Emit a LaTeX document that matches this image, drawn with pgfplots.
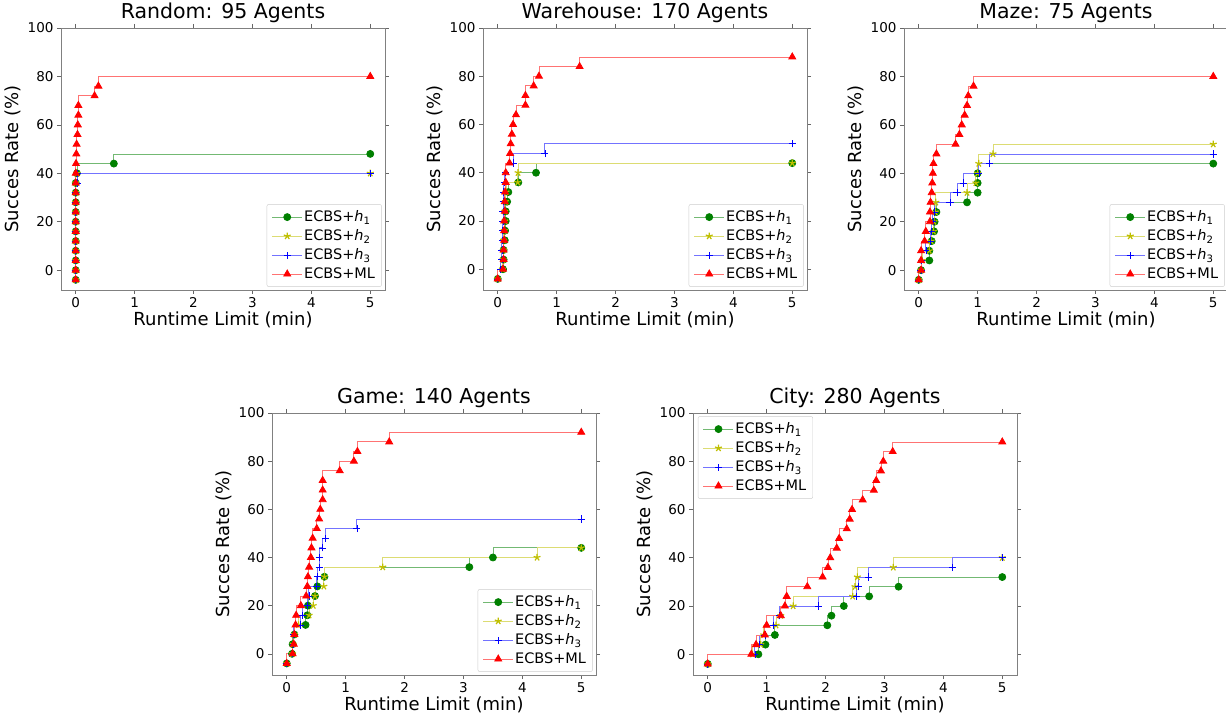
\documentclass[border=0pt]{standalone}
\usepackage{fontspec}
\setmainfont{DejaVu Sans}
\usepackage{pgfplots}
\pgfplotsset{compat=1.18}
\definecolor{mplg}{rgb}{0,0.5,0}
\definecolor{mply}{rgb}{0.75,0.75,0}
\definecolor{mplb}{rgb}{0,0,1}
\definecolor{mplr}{rgb}{1,0,0}
\pgfdeclareplotmark{bplus}{%
  \pgfsetstrokecolor{mplb}%
  \pgfpathmoveto{\pgfqpoint{-\pgfplotmarksize}{0pt}}\pgfpathlineto{\pgfqpoint{\pgfplotmarksize}{0pt}}%
  \pgfpathmoveto{\pgfqpoint{0pt}{-\pgfplotmarksize}}\pgfpathlineto{\pgfqpoint{0pt}{\pgfplotmarksize}}%
  \pgfusepathqstroke}
\pgfplotsset{
  common/.style={
    anchor=south west, scale only axis, width=324pt, height=262pt,
    xmin=-0.25, xmax=5.25, ymax=100,
    xtick={0,1,2,3,4,5}, ytick={0,20,40,60,80,100},
    tick align=outside, major tick length=4pt,
    tick style={black!60, line width=0.6pt},
    axis line style={black!50, line width=0.7pt},
    /pgf/number format/assume math mode=true,
    tick label style={font=\fontsize{13.5}{15}\selectfont},
    title style={font=\fontsize{20.5}{24}\selectfont, yshift=-4pt},
    label style={font=\fontsize{18}{21}\selectfont},
    xlabel={Runtime Limit (min)}, ylabel={Succes Rate (\%)},
    xlabel style={yshift=3pt}, ylabel style={yshift=0pt},
    legend cell align=left,
    legend style={font=\fontsize{14.5}{16}\selectfont, draw=black!20, rounded corners=2pt,
      fill=white, row sep=3.5pt, inner xsep=5pt, inner ysep=5pt,
      nodes={inner sep=1.5pt}},
    legend image code/.code={\draw[sharp plot, mark repeat=2,mark phase=2] plot coordinates {(0pt,0pt) (15pt,0pt) (30pt,0pt)};},
    every axis plot/.append style={const plot mark right, line width=0.8pt},
  },
  lr/.style={legend style={at={(0.99,0.012)}, anchor=south east}},
  sg/.style={color=mplg!55, mark=*, mark size=3.5pt, mark options={draw=mplg, fill=mplg}},
  sy/.style={color=mply!55, mark=star, mark size=3.6pt, mark options={draw=mply, fill=mply, line width=1.2pt}},
  sb/.style={color=mplb!55, mark=bplus, mark size=3.6pt, mark options={draw=mplb, fill=mplb, line width=0.6pt}},
  sr/.style={color=mplr!55, mark=triangle*, mark size=4pt, mark options={draw=mplr, fill=mplr}},
}
\newcommand{\hh}[1]{ECBS+\textit{h}\textsubscript{#1}}
\begin{document}
\begin{tikzpicture}
\useasboundingbox (0,0) rectangle (1226pt,715pt);
% Random
\begin{axis}[common, lr, at={(61pt,425pt)}, ymin=-8.2, title={Random: 95 Agents}]
\addplot[sg] coordinates {(0,-4)(0,0)(0,4)(0,8)(0,12)(0,16)(0,20)(0,24)(0,28)(0,32)(0,36)(0.02,40)(0.647,44)(5,48)};
\addplot[sy] coordinates {(0,-4)(0,0)(0,4)(0,8)(0,12)(0,16)(0,20)(0,24)(0,28)(0,32)(0,36)(0.02,40)(5,40)};
\addplot[sb] coordinates {(0,-4)(0,0)(0,4)(0,8)(0,12)(0,16)(0,20)(0,24)(0,28)(0,32)(0.03,36)(0.03,40)(5,40)};
\addplot[sr] coordinates {(0,-4)(0,0)(0,4)(0,8)(0,12)(0,16)(0,20)(0,24)(0,28)(0,32)(0,36)(0,40)(0.005,44)(0.01,48)(0.015,52)(0.03,56)(0.035,60)(0.045,64)(0.045,68)(0.32,72)(0.385,76)(5,80)};
\legend{\hh{1},\hh{2},\hh{3},ECBS+ML}
\end{axis}
% Warehouse
\begin{axis}[common, lr, at={(483pt,425pt)}, ymin=-8.6, title={Warehouse: 170 Agents}]
\addplot[sg] coordinates {(0,-4)(0.09,0)(0.1,4)(0.1,8)(0.12,12)(0.125,16)(0.136,20)(0.136,24)(0.16,28)(0.18,32)(0.35,36)(0.65,40)(5,44)};
\addplot[sy] coordinates {(0,-4)(0.08,0)(0.09,4)(0.1,8)(0.1,12)(0.11,16)(0.12,20)(0.12,24)(0.13,28)(0.14,32)(0.34,36)(0.345,40)(5,44)};
\addplot[sb] coordinates {(0,-4)(0.05,0)(0.07,4)(0.07,8)(0.08,12)(0.085,16)(0.09,20)(0.09,24)(0.095,28)(0.1,32)(0.11,36)(0.13,40)(0.26,44)(0.8,48)(5,52)};
\addplot[sr] coordinates {(0,-4)(0.09,0)(0.1,4)(0.1,8)(0.11,12)(0.11,16)(0.11,20)(0.12,24)(0.12,28)(0.125,32)(0.136,36)(0.136,40)(0.2,44)(0.21,48)(0.22,52)(0.24,56)(0.26,60)(0.31,64)(0.47,68)(0.47,72)(0.61,76)(0.70,80)(1.39,84)(5,88)};
\legend{\hh{1},\hh{2},\hh{3},ECBS+ML}
\end{axis}
% Maze
\begin{axis}[common, lr, at={(904pt,425pt)}, ymin=-8.2, title={Maze: 75 Agents}]
\addplot[sg] coordinates {(0,-4)(0.04,0)(0.18,4)(0.18,8)(0.22,12)(0.26,16)(0.27,20)(0.3,24)(0.82,28)(1.0,32)(1.0,36)(1.0,40)(5,44)};
\addplot[sy] coordinates {(0,-4)(0.04,0)(0.06,4)(0.18,8)(0.21,12)(0.25,16)(0.26,20)(0.28,24)(0.29,28)(0.82,32)(0.97,36)(1.0,40)(1.02,44)(1.26,48)(5,52)};
\addplot[sb] coordinates {(0,-4)(0.04,0)(0.05,4)(0.12,8)(0.19,12)(0.22,16)(0.24,20)(0.27,24)(0.53,28)(0.65,32)(0.76,36)(1.02,40)(1.2,44)(5,48)};
\addplot[sr] coordinates {(0,-4)(0.04,0)(0.04,4)(0.04,8)(0.1,12)(0.12,16)(0.19,20)(0.19,24)(0.2,28)(0.22,32)(0.23,36)(0.24,40)(0.25,44)(0.3,48)(0.625,52)(0.69,56)(0.73,60)(0.78,64)(0.82,68)(0.84,72)(0.93,76)(5,80)};
\legend{\hh{1},\hh{2},\hh{3},ECBS+ML}
\end{axis}
% Game
\begin{axis}[common, lr, at={(272pt,40pt)}, ymin=-8.8, title={Game: 140 Agents}]
\addplot[sg] coordinates {(0,-4)(0.09,0)(0.1,4)(0.13,8)(0.32,12)(0.35,16)(0.36,20)(0.48,24)(0.52,28)(0.64,32)(3.1,36)(3.5,40)(5,44)};
\addplot[sy] coordinates {(0,-4)(0.1,0)(0.11,4)(0.13,8)(0.2,12)(0.38,16)(0.45,20)(0.48,24)(0.63,28)(0.64,32)(1.63,36)(4.25,40)(5,44)};
\addplot[sb] coordinates {(0,-4)(0.1,0)(0.11,4)(0.12,8)(0.23,12)(0.27,16)(0.35,20)(0.375,24)(0.51,28)(0.52,32)(0.55,36)(0.55,40)(0.61,44)(0.66,48)(1.19,52)(5,56)};
\addplot[sr] coordinates {(0,-4)(0.1,0)(0.12,4)(0.13,8)(0.15,12)(0.16,16)(0.24,20)(0.33,24)(0.35,28)(0.36,32)(0.38,36)(0.41,40)(0.42,44)(0.44,48)(0.51,52)(0.55,56)(0.57,60)(0.61,64)(0.61,68)(0.61,72)(0.9,76)(1.14,80)(1.2,84)(1.74,88)(5,92)};
\legend{\hh{1},\hh{2},\hh{3},ECBS+ML}
\end{axis}
% City
\begin{axis}[common, at={(693pt,40pt)}, ymin=-8.6, title={City: 280 Agents}, legend style={at={(0.015,0.988)}, anchor=north west}]
\addplot[sg] coordinates {(0,-4)(0.86,0)(0.98,4)(1.14,8)(2.03,12)(2.1,16)(2.31,20)(2.74,24)(3.24,28)(5,32)};
\addplot[sy] coordinates {(0,-4)(0.76,0)(0.9,4)(0.95,8)(1.16,12)(1.24,16)(1.45,20)(2.46,24)(2.5,28)(2.54,32)(3.15,36)(5,40)};
\addplot[sb] coordinates {(0,-4)(0.8,0)(0.88,4)(0.97,8)(1.12,12)(1.22,16)(1.88,20)(2.53,24)(2.56,28)(2.73,32)(4.16,36)(5,40)};
\addplot[sr] coordinates {(0,-4)(0.74,0)(0.82,4)(0.97,8)(1.0,12)(1.24,16)(1.31,20)(1.34,24)(1.69,28)(1.95,32)(2.04,36)(2.08,40)(2.19,44)(2.23,48)(2.36,52)(2.41,56)(2.45,60)(2.63,64)(2.82,68)(2.86,72)(2.94,76)(2.98,80)(3.14,84)(5,88)};
\legend{\hh{1},\hh{2},\hh{3},ECBS+ML}
\end{axis}
\end{tikzpicture}
\end{document}
